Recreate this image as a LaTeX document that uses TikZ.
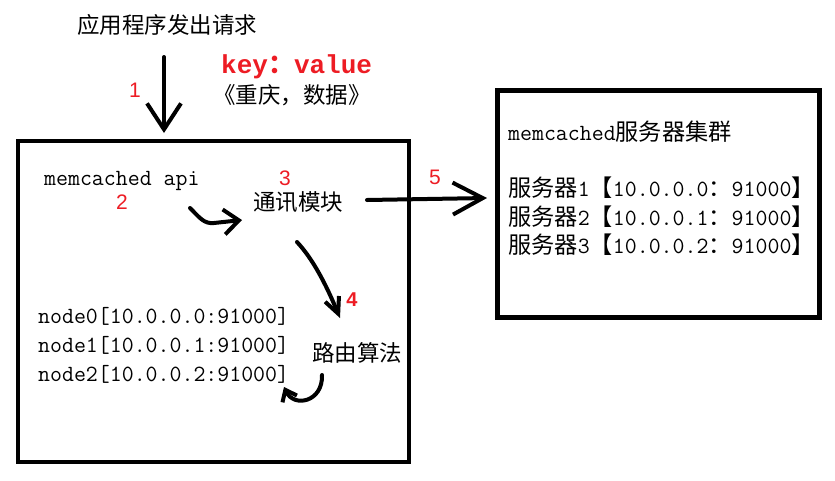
\documentclass[tikz,border=0pt]{standalone}
\usepackage{fontspec}
\newfontfamily\cjk{Noto Sans CJK SC}
\newfontfamily\sans{Liberation Sans}
\newfontfamily\cour{Liberation Mono}
\usetikzlibrary{arrows.meta}
\definecolor{mred}{RGB}{237,28,36}
\newcommand{\zh}[1]{{\cjk #1}}

\begin{document}
\begin{tikzpicture}[x=1pt,y=-1pt,
  txt/.style={inner sep=0pt,font=\fontsize{23.2}{26}\selectfont\ttfamily},
  zhtxt/.style={inner sep=0pt,font=\fontsize{22.5}{26}\selectfont\cjk},
  num/.style={inner sep=0pt,text=mred,font=\fontsize{21}{24}\selectfont\sans},
  hand/.style={line width=4pt,line cap=round,line join=round}]

\useasboundingbox (0,0) rectangle (835,480);

\draw[line width=4.5pt] (18,141) rectangle (409,462);
\draw[line width=4.5pt] (497.5,90.5) rectangle (819.5,317.5);

\node[zhtxt] (title) at (167,25) {应用程序发出请求};
\node[inner sep=0pt,anchor=west,text=mred,font=\fontsize{26}{28}\selectfont\cour\bfseries] (kv) at (221,67) {key\zh{：}value};
\node[zhtxt,anchor=west] (kvzh) at (213,95) {《重庆，数据》};

\node[num] (n1) at (135,90) {1};
\node[num] (n2) at (122,202) {2};
\node[num] (n3) at (285,178) {3};
\node[num,font=\fontsize{20}{24}\selectfont\sans\bfseries] (n4) at (352,300) {4};
\node[num] (n5) at (435,177) {5};

\node[txt,anchor=west] (api) at (44,181) {memcached api};
\node[zhtxt] (comm) at (298,202) {通讯模块};
\node[zhtxt] (route) at (357,353) {路由算法};

\foreach \i/\y in {0/316,1/345,2/374}
  \node[txt,anchor=west] (node\i) at (38,\y) {node\i[10.0.0.\i:91000]};

\node[txt,anchor=west] (cluster) at (508,132) {memcached\zh{服务器集群}};
\foreach \i/\n/\y in {0/1/188,1/2/217,2/3/245}
  \node[txt,anchor=west] (srv\i) at (508,\y) {\zh{服务器}\n\zh{【}10.0.0.\i\zh{：}91000\zh{】}};

\coordinate (a1s) at (164,57);
\coordinate (a1e) at (164,133);
\draw[hand,-{Straight Barb[length=26pt,width=34pt]}] (a1s) -- (a1e);

\coordinate (a2s) at (190,208);
\coordinate (a2e) at (242,220);
\draw[hand,-{Straight Barb[length=15pt,width=25pt]}] (a2s) .. controls (200,218) and (204,224) .. (214,223) -- (a2e);

\coordinate (a3s) at (297,242);
\coordinate (a3e) at (340,318);
\draw[hand,-{Straight Barb[length=16pt,width=15pt]}] (a3s) .. controls (312,258) and (325,282) .. (a3e);

\coordinate (a4s) at (322,375);
\coordinate (a4e) at (284,387);
\draw[hand,-{Straight Barb[length=10pt,width=16pt]}] (a4s) .. controls (323,402) and (294,408) .. (a4e);

\coordinate (a5s) at (367,200);
\coordinate (a5e) at (487,198);
\draw[hand,-{Straight Barb[length=30pt,width=32pt]}] (a5s) -- (a5e);
\end{tikzpicture}
\end{document}
